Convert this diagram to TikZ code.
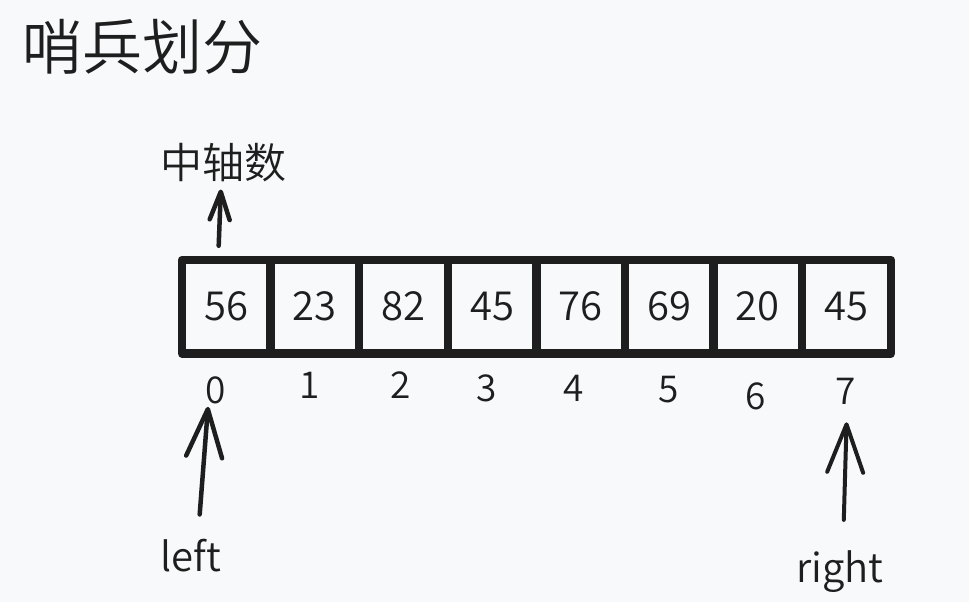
\documentclass[tikz,border=0pt]{standalone}
\usepackage{fontspec}
\setmainfont{Noto Sans CJK SC}[UprightFont={* DemiLight}]
\usetikzlibrary{arrows.meta}
\definecolor{ink}{RGB}{30,30,30}
\definecolor{paper}{RGB}{248,249,250}

\begin{document}
\begin{tikzpicture}[x=1pt, y=-1pt, color=ink, line cap=round, line join=round,
	cell/.style={draw, line width=8.5pt, minimum width=88.6pt, minimum height=93.5pt, inner sep=0pt, font=\fontsize{40}{48}\selectfont},
	idx/.style={inner sep=3pt, font=\fontsize{37}{44}\selectfont},
	lbl/.style={inner sep=3pt, font=\fontsize{40}{48}\selectfont},
	ptr/.style={-{Straight Barb[length=48pt, width=36pt, round]}, line width=4.5pt}]
	\useasboundingbox [fill=paper] (0,0) rectangle (969,602);

	\node [inner sep=3pt, font=\fontsize{60}{72}\selectfont] (title) at (143,47) {哨兵划分};	% Titel

	% Array
	\foreach \v [count=\i from 0] in {56,23,82,45,76,69,20,45}
		\node [cell] (c\i) at (226.3+88.6*\i, 306.75) {\v};

	% Indizes (von Hand, leicht versetzt)
	\foreach \x/\y [count=\i from 0] in {216/390, 310/385, 401/385, 487/388, 574/388, 669/390, 756/396, 846/391}
		\node [idx] (i\i) at (\x,\y) {\i};

	\node [lbl, font=\fontsize{42}{50}\selectfont] (pivot) at (223,163) {中轴数};
	\node [lbl] (left) at (191,556) {left};
	\node [lbl] (right) at (840,572) {right};

	% Pfeile
	\draw [ptr, -{Straight Barb[length=28pt, width=20pt, round]}, shorten <=10pt, shorten >=4pt]
		([xshift=-8pt]c0.north) -- ([xshift=-2pt]pivot.south);
	\draw [ptr, shorten <=22pt] ([xshift=7pt]left.north) -- ([xshift=-8pt]i0.south);
	\draw [ptr, line width=4pt, shorten <=28pt, shorten >=15pt] ([xshift=3pt]right.north) -- ([xshift=1pt]i7.south);
\end{tikzpicture}
\end{document}
